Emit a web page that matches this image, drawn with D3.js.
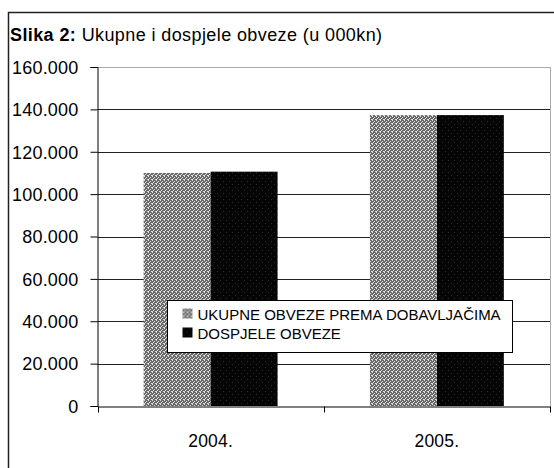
<!DOCTYPE html>
<html><head><meta charset="utf-8">
<script src="https://cdn.jsdelivr.net/npm/d3@7"></script>
<style>
body{margin:0;background:#fff;}
svg text{font-family:"Liberation Sans",Arial,sans-serif;fill:#000;}
</style></head>
<body><svg id="c" width="554" height="468"></svg>
<script>
const categories = ["2004.", "2005."];
const seriesNames = ["UKUPNE OBVEZE PREMA DOBAVLJAČIMA", "DOSPJELE OBVEZE"];
const ukupne = [110.0, 137.3];
const dospjele = [110.6, 137.3];
const yTicks = [0, 20, 40, 60, 80, 100, 120, 140, 160];
const yTickLabels = ["0", "20.000", "40.000", "60.000", "80.000", "100.000", "120.000", "140.000", "160.000"];

const svg = d3.select("#c");
const defs = svg.append("defs");
// speckled textures
const p1 = defs.append("pattern").attr("id","pg").attr("width",4).attr("height",4).attr("patternUnits","userSpaceOnUse");
p1.append("rect").attr("width",4).attr("height",4).attr("fill","#6a6a6a");
[[0,0],[2,1],[1,2],[3,3],[0,3]].forEach(([x,y])=>p1.append("rect").attr("x",x).attr("y",y).attr("width",1).attr("height",1).attr("fill","#dcdcdc"));
const p2 = defs.append("pattern").attr("id","pb").attr("width",6).attr("height",6).attr("patternUnits","userSpaceOnUse");
p2.append("rect").attr("width",6).attr("height",6).attr("fill","#050505");
[[1,1],[4,4]].forEach(([x,y])=>p2.append("rect").attr("x",x).attr("y",y).attr("width",1).attr("height",1).attr("fill","#2a2a2a"));

// outer frame
svg.append("path").attr("d","M8.5,468 V12.5 H554").attr("fill","none").attr("stroke","#222").attr("stroke-width",1.5);

// title
const t = svg.append("text").attr("x",10).attr("y",41).style("font-size","18px").style("letter-spacing","0.4px");
t.append("tspan").style("font-weight","bold").text("Slika 2:");
t.append("tspan").text(" Ukupne i dospjele obveze (u 000kn)");

const L = 97.5, R = 550, T = 67, B = 406;
const y = d3.scaleLinear().domain([0,160]).range([B,T]);
const x = d3.scaleBand().domain(categories).range([L,R]).paddingInner(0.408).paddingOuter(0.204);
const xs = d3.scaleBand().domain([0,1]).range([0,x.bandwidth()]);

// gridlines
svg.append("g").selectAll("line").data(yTicks.filter(d=>d>0 && d<160)).join("line")
  .attr("x1",L).attr("x2",R).attr("y1",d=>Math.round(y(d))+0.5).attr("y2",d=>Math.round(y(d))+0.5)
  .attr("stroke","#222").attr("stroke-width",1.2);
// plot area dotted top/right
svg.append("path").attr("d",`M${L},${T+0.5} H${R+0.5} V${B}`).attr("fill","none")
  .attr("stroke","#555").attr("stroke-dasharray","1,1");

// bars
const data = categories.map((c,i)=>({c, v:[ukupne[i], dospjele[i]]}));
const g = svg.append("g");
data.forEach(d=>{
  d.v.forEach((v,j)=>{
    g.append("rect").attr("x",x(d.c)+xs(j)).attr("width",xs.bandwidth())
      .attr("y",y(v)).attr("height",B-y(v))
      .attr("fill", j===0 ? "url(#pg)" : "url(#pb)");
  });
});

// y axis
const yAxis = d3.axisLeft(y).tickValues(yTicks).tickFormat((d,i)=>yTickLabels[i]).tickSize(7).tickPadding(12);
const ya = svg.append("g").attr("transform",`translate(${L},0)`).call(yAxis);
ya.select(".domain").attr("stroke","#000");
ya.selectAll(".tick line").attr("stroke","#000");
ya.selectAll("text").style("font-size","18px").style("letter-spacing","0.2px").attr("dy","0.35em").attr("font-family",null);

// x axis
const xAxis = d3.axisBottom(x).tickSize(0).tickPadding(28);
const xa = svg.append("g").attr("transform",`translate(0,${B+0.5})`).call(xAxis);
xa.select(".domain").attr("stroke","#000");
xa.selectAll("text").style("font-size","17.5px").style("letter-spacing","0.2px").attr("font-family",null);
// category boundary ticks
const bounds = [L, (x("2004.")+x.bandwidth()+x("2005."))/2, R];
xa.append("g").selectAll("line").data(bounds).join("line")
  .attr("x1",d=>Math.round(d)+0.5).attr("x2",d=>Math.round(d)+0.5).attr("y1",0).attr("y2",6).attr("stroke","#000");

// legend
const lg = svg.append("g").attr("transform","translate(167.5,300.5)");
lg.append("rect").attr("width",345).attr("height",52).attr("fill","#fff").attr("stroke","#000");
seriesNames.forEach((n,i)=>{
  lg.append("rect").attr("x",15).attr("y",8+i*19).attr("width",10).attr("height",10)
    .attr("fill", i===0 ? "url(#pg)" : "url(#pb)");
  lg.append("text").attr("x",30).attr("y",19+i*19).style("font-size","15px").text(n);
});
</script></body></html>
